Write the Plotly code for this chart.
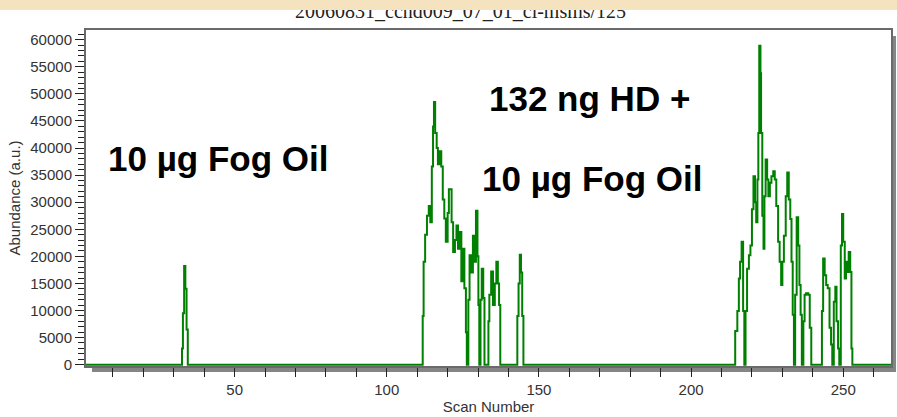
import plotly.graph_objects as go

# Total-ion chromatogram: scan number vs. abundance (held as a step trace)
scan = [
    1.0, 32.4, 32.7, 33.0, 33.4, 33.8, 34.2, 34.6,
    111.5, 111.8, 112.1, 112.6, 113.2, 113.8, 114.3, 114.8, 115.2, 115.5,
    115.9, 116.4, 116.8, 117.3, 117.9, 118.4, 118.9, 119.4, 120.0, 120.4,
    121.3, 121.8, 122.4, 122.9, 123.4, 124.0, 124.5, 125.0, 125.5, 126.0,
    126.3, 126.8, 127.2, 127.8, 128.3, 128.8, 129.3, 129.8, 130.1, 130.4,
    130.8, 131.2, 131.7, 132.1, 133.4, 133.7, 134.3, 134.9, 135.5, 136.0,
    136.5, 136.9, 137.3, 142.9, 143.3, 143.7, 144.1, 144.5, 144.9,
    214.3, 214.5, 215.2, 215.7, 216.1, 216.6, 217.1, 217.5, 217.9, 218.4,
    219.0, 219.5, 220.0, 220.5, 221.0, 221.4, 221.8, 222.1, 222.4, 222.8,
    223.0, 223.4, 223.8, 224.1, 224.5, 225.0, 225.4, 225.9, 226.4, 227.0,
    227.5, 228.0, 228.6, 229.1, 229.6, 230.0, 230.5, 231.1, 231.6, 232.1,
    232.6, 233.0, 233.4, 233.8, 234.2, 234.7, 235.2, 235.6, 236.0, 236.4,
    236.9, 237.3, 237.8, 238.5, 239.0, 239.5, 243.0, 243.4, 243.9, 244.4,
    244.9, 245.5, 246.0, 246.4, 246.9, 247.4, 247.8, 248.3, 248.7, 249.2,
    249.6, 250.0, 250.5, 250.9, 251.4, 251.8, 252.3, 252.7, 253.0, 266.0,
]
abundance = [
    0, 0, 3000, 9500, 18200, 14000, 6500, 0,
    0, 9000, 19000, 24000, 27500, 29300, 26300, 36600, 44000, 48500,
    42800, 40000, 37000, 39400, 36600, 30500, 27000, 22700, 28000, 32400,
    26300, 20800, 23000, 25700, 21400, 24500, 15400, 21400, 14100, 6000,
    0, 12000, 20200, 17000, 23800, 19000, 28400, 20000, 11000, 0,
    12000, 17700, 12300, 0, 8000, 12900, 17200, 11000, 15000, 19000,
    15000, 11000, 0, 9000, 15000, 20300, 17000, 9000, 0,
    0, 6200, 9900, 15900, 19000, 22700, 9900, 0, 9900, 17700,
    20200, 22000, 28700, 34800, 30000, 26300, 34200, 42800, 58900, 53800,
    42800, 27500, 21400, 31100, 37900, 34200, 31100, 33600, 34800, 35700,
    34200, 29300, 22700, 19000, 14700, 19000, 23800, 31100, 35500, 30500,
    26900, 19000, 9200, 0, 12900, 27200, 22000, 14700, 9200, 0,
    8000, 12900, 13200, 12900, 6800, 0, 9900, 19600, 16500, 14700,
    14100, 6800, 3700, 0, 11600, 14400, 8000, 3000, 0, 22000,
    27800, 22700, 15900, 19000, 17100, 20800, 17100, 3000, 0, 0,
]

run_title = "20060831_ccnd009_07_01_ci-msms/125"
x_title = "Scan Number"
y_title = "Abundance (a.u.)"
label_fog = "10 µg Fog Oil"
label_hd = "132 ng HD +"

W, H = 897, 417
ML, MR, MT, MB = 86, 4, 30, 50
PW, PH = W - ML - MR, H - MT - MB

SANS = "Arial, Liberation Sans, sans-serif"
SERIF = "Times New Roman, Liberation Serif, serif"
GREEN = "#008000"
PARCHMENT = "#F5E2BF"
SHADOW = "#858585"
LABEL_FONT = dict(family=SANS, size=35, color="#000")


def px_x(p):
    return (p - ML) / PW


def px_y(p):
    return (MT + PH - p) / PH


fig = go.Figure()
fig.add_trace(go.Scatter(
    x=scan, y=abundance, mode="lines", line_shape="hv",
    line=dict(color=GREEN, width=2), showlegend=False, hoverinfo="skip",
))

# Drop shadows along the bottom and right of the plot frame
fig.add_shape(type="rect", xref="paper", yref="paper", layer="below",
              x0=px_x(92), x1=px_x(898), y0=px_y(373), y1=px_y(368),
              fillcolor=SHADOW, line_width=0)
fig.add_shape(type="rect", xref="paper", yref="paper", layer="below",
              x0=px_x(894.5), x1=px_x(898), y0=px_y(373), y1=px_y(36),
              fillcolor=SHADOW, line_width=0)

# Sample labels
fig.add_annotation(x=44.4, y=38000, xref="x", yref="y", text=f"<b>{label_fog}</b>",
                   showarrow=False, font=LABEL_FONT)
fig.add_annotation(x=166.7, y=49200, xref="x", yref="y", text=f"<b>{label_hd}</b>",
                   showarrow=False, font=LABEL_FONT)
fig.add_annotation(x=167.4, y=34300, xref="x", yref="y", text=f"<b>{label_fog}</b>",
                   showarrow=False, font=LABEL_FONT)

# Run name above the frame, partly hidden under the parchment strip
fig.add_annotation(x=px_x(461), y=px_y(11), xref="paper", yref="paper",
                   text=run_title, showarrow=False, yanchor="middle",
                   font=dict(family=SERIF, size=20, color="#222"))
fig.add_annotation(x=px_x(0), y=px_y(0), xref="paper", yref="paper",
                   xanchor="left", yanchor="top", text=" ", showarrow=False,
                   width=W, height=10, bgcolor=PARCHMENT, borderpad=0,
                   borderwidth=0)

fig.update_layout(
    width=W, height=H,
    margin=dict(l=ML, r=MR, t=MT, b=MB, pad=0),
    paper_bgcolor="white", plot_bgcolor="white",
    font=dict(family=SANS, size=15, color="#333"),
    xaxis=dict(
        range=[1.15, 265.7], showgrid=False, zeroline=False,
        showline=True, linecolor="#6a6a6a", linewidth=2, mirror=True,
        tickmode="linear", tick0=0, dtick=50, tickformat="d",
        ticks="outside", ticklen=9, tickcolor="#222", tickwidth=1,
        minor=dict(tickmode="linear", tick0=0, dtick=10, ticks="outside",
                   ticklen=9, tickcolor="#222", tickwidth=1),
        tickfont=dict(family=SANS, size=15, color="#333"),
        title=dict(text=x_title, font=dict(family=SANS, size=15, color="#333"),
                   standoff=4),
    ),
    yaxis=dict(
        range=[-250, 61800], showgrid=False, zeroline=False,
        showline=True, linecolor="#6a6a6a", linewidth=2, mirror=True,
        tickmode="linear", tick0=0, dtick=5000, tickformat="d",
        ticks="outside", ticklen=9, tickcolor="#222", tickwidth=1,
        minor=dict(tickmode="linear", tick0=0, dtick=1000, ticks="outside",
                   ticklen=6, tickcolor="#222", tickwidth=1),
        tickfont=dict(family=SANS, size=15, color="#333"),
        title=dict(text=y_title, font=dict(family=SANS, size=15, color="#333"),
                   standoff=6),
    ),
)

fig.write_html("out.html")
